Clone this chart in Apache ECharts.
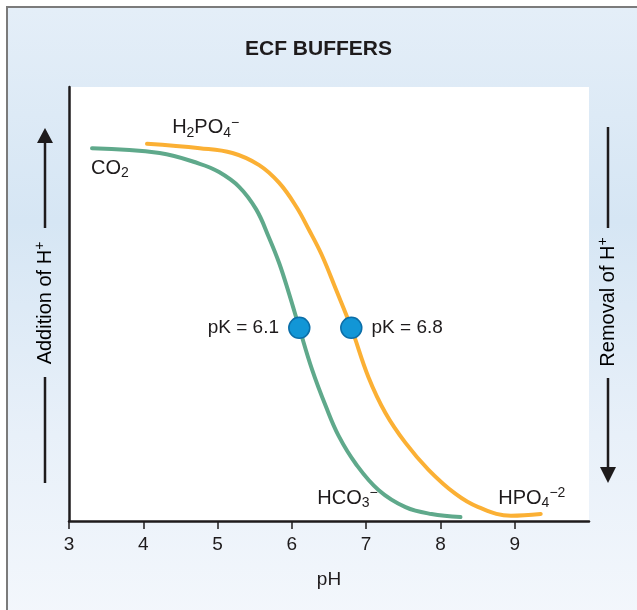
<!DOCTYPE html>
<html>
<head>
<meta charset="utf-8">
<script src="https://cdn.jsdelivr.net/npm/echarts@6/dist/echarts.min.js"></script>
<style>
  html, body { margin: 0; padding: 0; background: #ffffff; }
  #frame {
    position: absolute; left: 6px; top: 6px; width: 640px; height: 610px;
    border-left: 2px solid #7b7b7b; border-top: 2px solid #7b7b7b;
    background: linear-gradient(to bottom, #e4eef8 0%, #d6e6f4 35%, #e8f0f9 70%, #f3f7fc 100%);
  }
  #chart { position: absolute; left: 0; top: 0; width: 637px; height: 610px; }
</style>
</head>
<body>
<div id="frame"></div>
<div id="chart"></div>
<script>
// ---------- data ----------
const phTicks = [3, 4, 5, 6, 7, 8, 9];
// bicarbonate buffer (CO2 / HCO3-) : pH vs relative amount of acid form (%)
const co2PH  = [3.31, 4.22, 4.76, 5.02, 5.29, 5.52, 5.69, 5.83, 5.96, 6.10, 6.27, 6.46, 6.63, 6.86, 7.17, 7.53, 7.88, 8.27];
const co2Val = [85.9, 84.8, 82.3, 80.4, 77.0, 71.8, 65.4, 59.4, 52.5, 44.5, 35.0, 26.3, 19.6, 13.2, 7.1, 3.2, 1.6, 0.9];
// phosphate buffer (H2PO4- / HPO4--)
const phosPH  = [4.05, 4.76, 5.20, 5.56, 5.83, 6.06, 6.23, 6.40, 6.59, 6.80, 7.03, 7.26, 7.53, 7.84, 8.20, 8.51, 8.95, 9.35];
const phosVal = [86.9, 85.9, 84.8, 82.0, 77.9, 72.4, 67.1, 61.4, 53.5, 44.5, 33.2, 24.9, 18.0, 11.8, 6.3, 3.2, 1.2, 1.6];
// pK points
const pkValues = [6.1, 6.8];
const pkLevel = 44.5;
const pkLabels = ['pK = 6.1', 'pK = 6.8'];
// species labels
const speciesText = ['{b|CO}{sub|2}', '{b|H}{sub|2}{b|PO}{sub|4}{sup|\u2212}', '{b|HCO}{sub|3}{sup|\u2212}', '{b|HPO}{sub|4}{sup|\u22122}'];
const speciesPH  = [3.55, 4.84, 6.75, 9.23];
const speciesVal = [81.3, 90.6, 5.3, 5.3];
const titleText = 'ECF BUFFERS';
const xName = 'pH';
const leftText = 'Addition of H';
const rightText = 'Removal of H';

// ---------- styles ----------
const F = '"Liberation Sans", Arial, Helvetica, sans-serif';
const INK = '#1e1b1c';
const rich = {
  b:   { fontSize: 20, fontFamily: F, color: INK, lineHeight: 24 },
  sub: { fontSize: 14, fontFamily: F, color: INK, lineHeight: 14, verticalAlign: 'bottom' },
  sup: { fontSize: 14, fontFamily: F, color: INK, lineHeight: 14, verticalAlign: 'top' }
};

const chart = echarts.init(document.getElementById('chart'), null, { renderer: 'canvas' });

const option = {
  animation: false,
  backgroundColor: 'transparent',
  title: {
    text: titleText, left: 'center', top: 34,
    textStyle: { fontFamily: F, fontSize: 21, fontWeight: 'bold', color: INK }
  },
  grid: {
    left: 69, top: 87, right: 48, bottom: 89,
    show: true, backgroundColor: '#ffffff', borderWidth: 0
  },
  xAxis: {
    type: 'value', min: 3, max: 10, interval: 1,
    name: xName, nameLocation: 'middle', nameGap: 49,
    nameTextStyle: { fontFamily: F, fontSize: 19, color: INK },
    axisLine: { show: true, lineStyle: { color: INK, width: 2.5 } },
    axisTick: { show: true, length: 8, lineStyle: { color: INK, width: 1.5 }, customValues: phTicks },
    axisLabel: { margin: 14, fontFamily: F, fontSize: 19, color: INK, customValues: phTicks },
    splitLine: { show: false }
  },
  yAxis: {
    type: 'value', min: 0, max: 100,
    axisLine: { show: true, onZero: false, lineStyle: { color: INK, width: 2.5 } },
    axisTick: { show: false }, axisLabel: { show: false }, splitLine: { show: false }
  },
  series: [
    {
      type: 'line', data: co2PH.map((p, i) => [p, co2Val[i]]),
      smooth: 0.4, showSymbol: false, symbol: 'none',
      lineStyle: { color: '#5fa98b', width: 4, cap: 'round' }, z: 2
    },
    {
      type: 'line', data: phosPH.map((p, i) => [p, phosVal[i]]),
      smooth: 0.4, showSymbol: false, symbol: 'none',
      lineStyle: { color: '#fbb034', width: 4, cap: 'round' }, z: 2
    },
    {
      type: 'scatter', symbolSize: 21, z: 5,
      itemStyle: { color: '#1296d6', borderColor: '#0b6ea8', borderWidth: 1.5, opacity: 1 },
      data: pkValues.map((p, i) => ({
        value: [p, pkLevel],
        label: {
          show: true, formatter: pkLabels[i], position: i === 0 ? 'left' : 'right', distance: 9,
          fontFamily: F, fontSize: 19, color: INK
        }
      }))
    },
    {
      type: 'scatter', symbolSize: 0, z: 6, silent: true,
      itemStyle: { color: INK, opacity: 1 },
      data: speciesPH.map((p, i) => ({
        value: [p, speciesVal[i]],
        label: {
          show: true, position: [0, 0], align: 'center', verticalAlign: 'middle',
          formatter: speciesText[i], rich: rich, color: INK
        }
      }))
    }
  ],
  graphic: [
    // left arrow (up)
    { type: 'line', shape: { x1: 45, y1: 140, x2: 45, y2: 228 }, style: { stroke: INK, lineWidth: 2.5 } },
    { type: 'line', shape: { x1: 45, y1: 377, x2: 45, y2: 483 }, style: { stroke: INK, lineWidth: 2.5 } },
    { type: 'polygon', shape: { points: [[45, 128], [37, 143], [53, 143]] }, style: { fill: INK } },
    // right arrow (down)
    { type: 'line', shape: { x1: 608, y1: 127, x2: 608, y2: 228 }, style: { stroke: INK, lineWidth: 2.5 } },
    { type: 'line', shape: { x1: 608, y1: 378, x2: 608, y2: 470 }, style: { stroke: INK, lineWidth: 2.5 } },
    { type: 'polygon', shape: { points: [[608, 483], [600, 467], [616, 467]] }, style: { fill: INK } },
    {
      type: 'text', x: 45, y: 303, rotation: Math.PI / 2,
      style: { text: '{b|' + leftText + '}{sup|+}', rich: rich, align: 'center', verticalAlign: 'middle' }
    },
    {
      type: 'text', x: 608, y: 302, rotation: Math.PI / 2,
      style: { text: '{b|' + rightText + '}{sup|+}', rich: rich, align: 'center', verticalAlign: 'middle' }
    }
  ]
};
chart.setOption(option);
</script>
</body>
</html>
